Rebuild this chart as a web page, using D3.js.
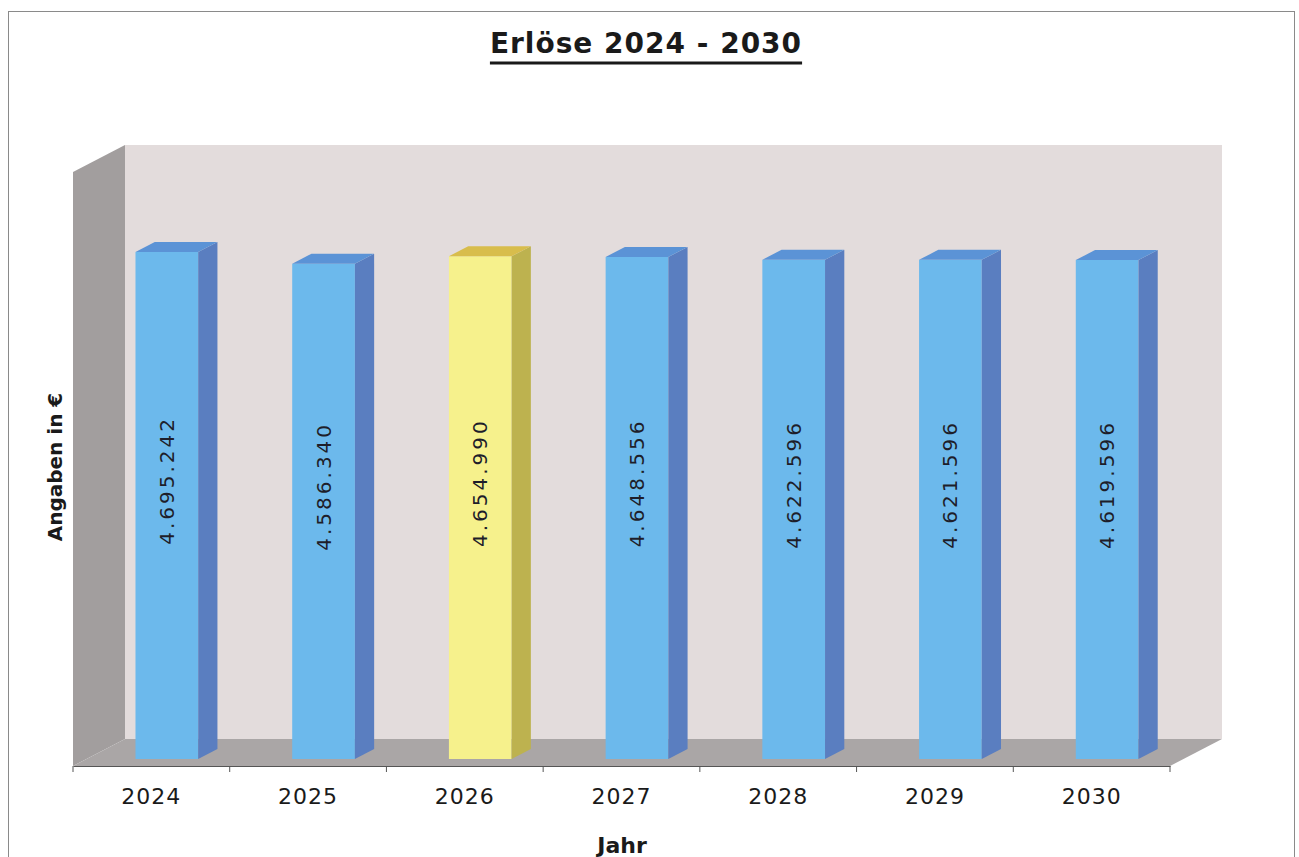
<!DOCTYPE html>
<html>
<head>
<meta charset="utf-8">
<script src="https://cdn.jsdelivr.net/npm/d3@7"></script>
<style>
  body { margin: 0; background: #fff; }
  svg { display: block; }
</style>
</head>
<body>
<div id="chart-area"></div>
<script>
var years = ["2024", "2025", "2026", "2027", "2028", "2029", "2030"];
var revenues = [4695242, 4586340, 4654990, 4648556, 4622596, 4621596, 4619596];
var highlightYear = "2026";
var yMax = 5500000;

var width = 1299, height = 857;
var left = 73, right = 1170, floorY = 766, wallH = 594;
var depth = 27, kx = 52 / 27;       // floor depth and its slant
var zFront = 7, zBack = 17;          // where the bars stand on the floor

var svg = d3.select("#chart-area").append("svg")
  .attr("width", width)
  .attr("height", height);

// outer frame
svg.append("rect")
  .attr("x", 8.5).attr("y", 11.5)
  .attr("width", 1286).attr("height", 860)
  .attr("fill", "none").attr("stroke", "#8a8a8a").attr("stroke-width", 1);

var xTick = d3.scaleBand().domain(years).range([left, right]).padding(0);
var x = d3.scaleBand().domain(years).range([left + 2, right + 2]).paddingInner(0.6).paddingOuter(0.3);
var y = d3.scaleLinear().domain([0, yMax]).range([0, wallH]);

function P(px, py, z) { return [px + z * kx, py - z]; }
function poly(pts) { return pts.map(p => p.join(",")).join(" "); }

// walls
svg.append("polygon")
  .attr("points", poly([P(left, floorY, depth), P(left, floorY - wallH, depth), P(right, floorY - wallH, depth), P(right, floorY, depth)]))
  .attr("fill", "#e3dcdc");
svg.append("polygon")
  .attr("points", poly([P(left, floorY, 0), P(left, floorY - wallH, 0), P(left, floorY - wallH, depth), P(left, floorY, depth)]))
  .attr("fill", "#a29e9e");
svg.append("polygon")
  .attr("points", poly([P(left, floorY, 0), P(right, floorY, 0), P(right, floorY, depth), P(left, floorY, depth)]))
  .attr("fill", "#aaa6a6");

// bars
var bars = svg.selectAll("g.bar")
  .data(years.map((d, i) => ({year: d, value: revenues[i]})))
  .enter().append("g").attr("class", "bar");

function col(d, blue, yellow) { return d.year == highlightYear ? yellow : blue; }

bars.each(function(d) {
  var g = d3.select(this);
  var x0 = x(d.year), x1 = x(d.year) + x.bandwidth();
  var top = floorY - y(d.value);
  g.append("polygon")
    .attr("points", poly([P(x0, floorY, zFront), P(x1, floorY, zFront), P(x1, top, zFront), P(x0, top, zFront)]))
    .attr("fill", col(d, "#6cb9ec", "#f6f18c"));
  g.append("polygon")
    .attr("points", poly([P(x1, floorY, zFront), P(x1, floorY, zBack), P(x1, top, zBack), P(x1, top, zFront)]))
    .attr("fill", col(d, "#5a7ec0", "#bdb24f"));
  g.append("polygon")
    .attr("points", poly([P(x0, top, zFront), P(x1, top, zFront), P(x1, top, zBack), P(x0, top, zBack)]))
    .attr("fill", col(d, "#5b93d6", "#d8bd4c"));

  var c = P((x0 + x1) / 2, (floorY + top) / 2 - 25, zFront);
  g.append("text")
    .attr("transform", "translate(" + (c[0] + 7) + "," + c[1] + ") rotate(-90)")
    .attr("text-anchor", "middle")
    .attr("font-family", "DejaVu Sans")
    .attr("font-size", "20px")
    .attr("letter-spacing", "3px")
    .attr("fill", "#1e1e2a")
    .text(d3.format(",")(d.value).replace(/,/g, "."));
});

// x axis
var xAxis = svg.append("g")
  .attr("transform", "translate(0," + floorY + ")")
  .call(d3.axisBottom(xTick).tickSize(0).tickPadding(22));
xAxis.select(".domain").attr("stroke", "#555");
xAxis.selectAll("text")
  .attr("font-family", "DejaVu Sans")
  .attr("font-size", "22px")
  .attr("letter-spacing", "1px")
  .attr("fill", "#1a1a1a");

var edges = years.map(d => xTick(d)).concat([right]);
svg.selectAll("line.edge").data(edges).enter().append("line")
  .attr("class", "edge")
  .attr("x1", d => d).attr("x2", d => d)
  .attr("y1", floorY).attr("y2", floorY + 6)
  .attr("stroke", "#555");

// titles
var title = svg.append("text")
  .attr("x", 646).attr("y", 53)
  .attr("text-anchor", "middle")
  .attr("font-family", "DejaVu Sans")
  .attr("font-weight", "bold")
  .attr("font-size", "28px")
  .attr("letter-spacing", "1px")
  .attr("fill", "#1a1a1a")
  .text("Erlöse 2024 - 2030");
var tb = title.node().getBBox();
svg.append("line")
  .attr("x1", tb.x).attr("x2", tb.x + tb.width)
  .attr("y1", 63).attr("y2", 63)
  .attr("stroke", "#1a1a1a").attr("stroke-width", 3);

svg.append("text")
  .attr("transform", "translate(62,467) rotate(-90)")
  .attr("text-anchor", "middle")
  .attr("font-family", "DejaVu Sans")
  .attr("font-weight", "bold")
  .attr("font-size", "20px")
  .attr("fill", "#1a1a1a")
  .text("Angaben in €");

svg.append("text")
  .attr("x", 622).attr("y", 853)
  .attr("text-anchor", "middle")
  .attr("font-family", "DejaVu Sans")
  .attr("font-weight", "bold")
  .attr("font-size", "22px")
  .attr("fill", "#1a1a1a")
  .text("Jahr");
</script>
</body>
</html>
